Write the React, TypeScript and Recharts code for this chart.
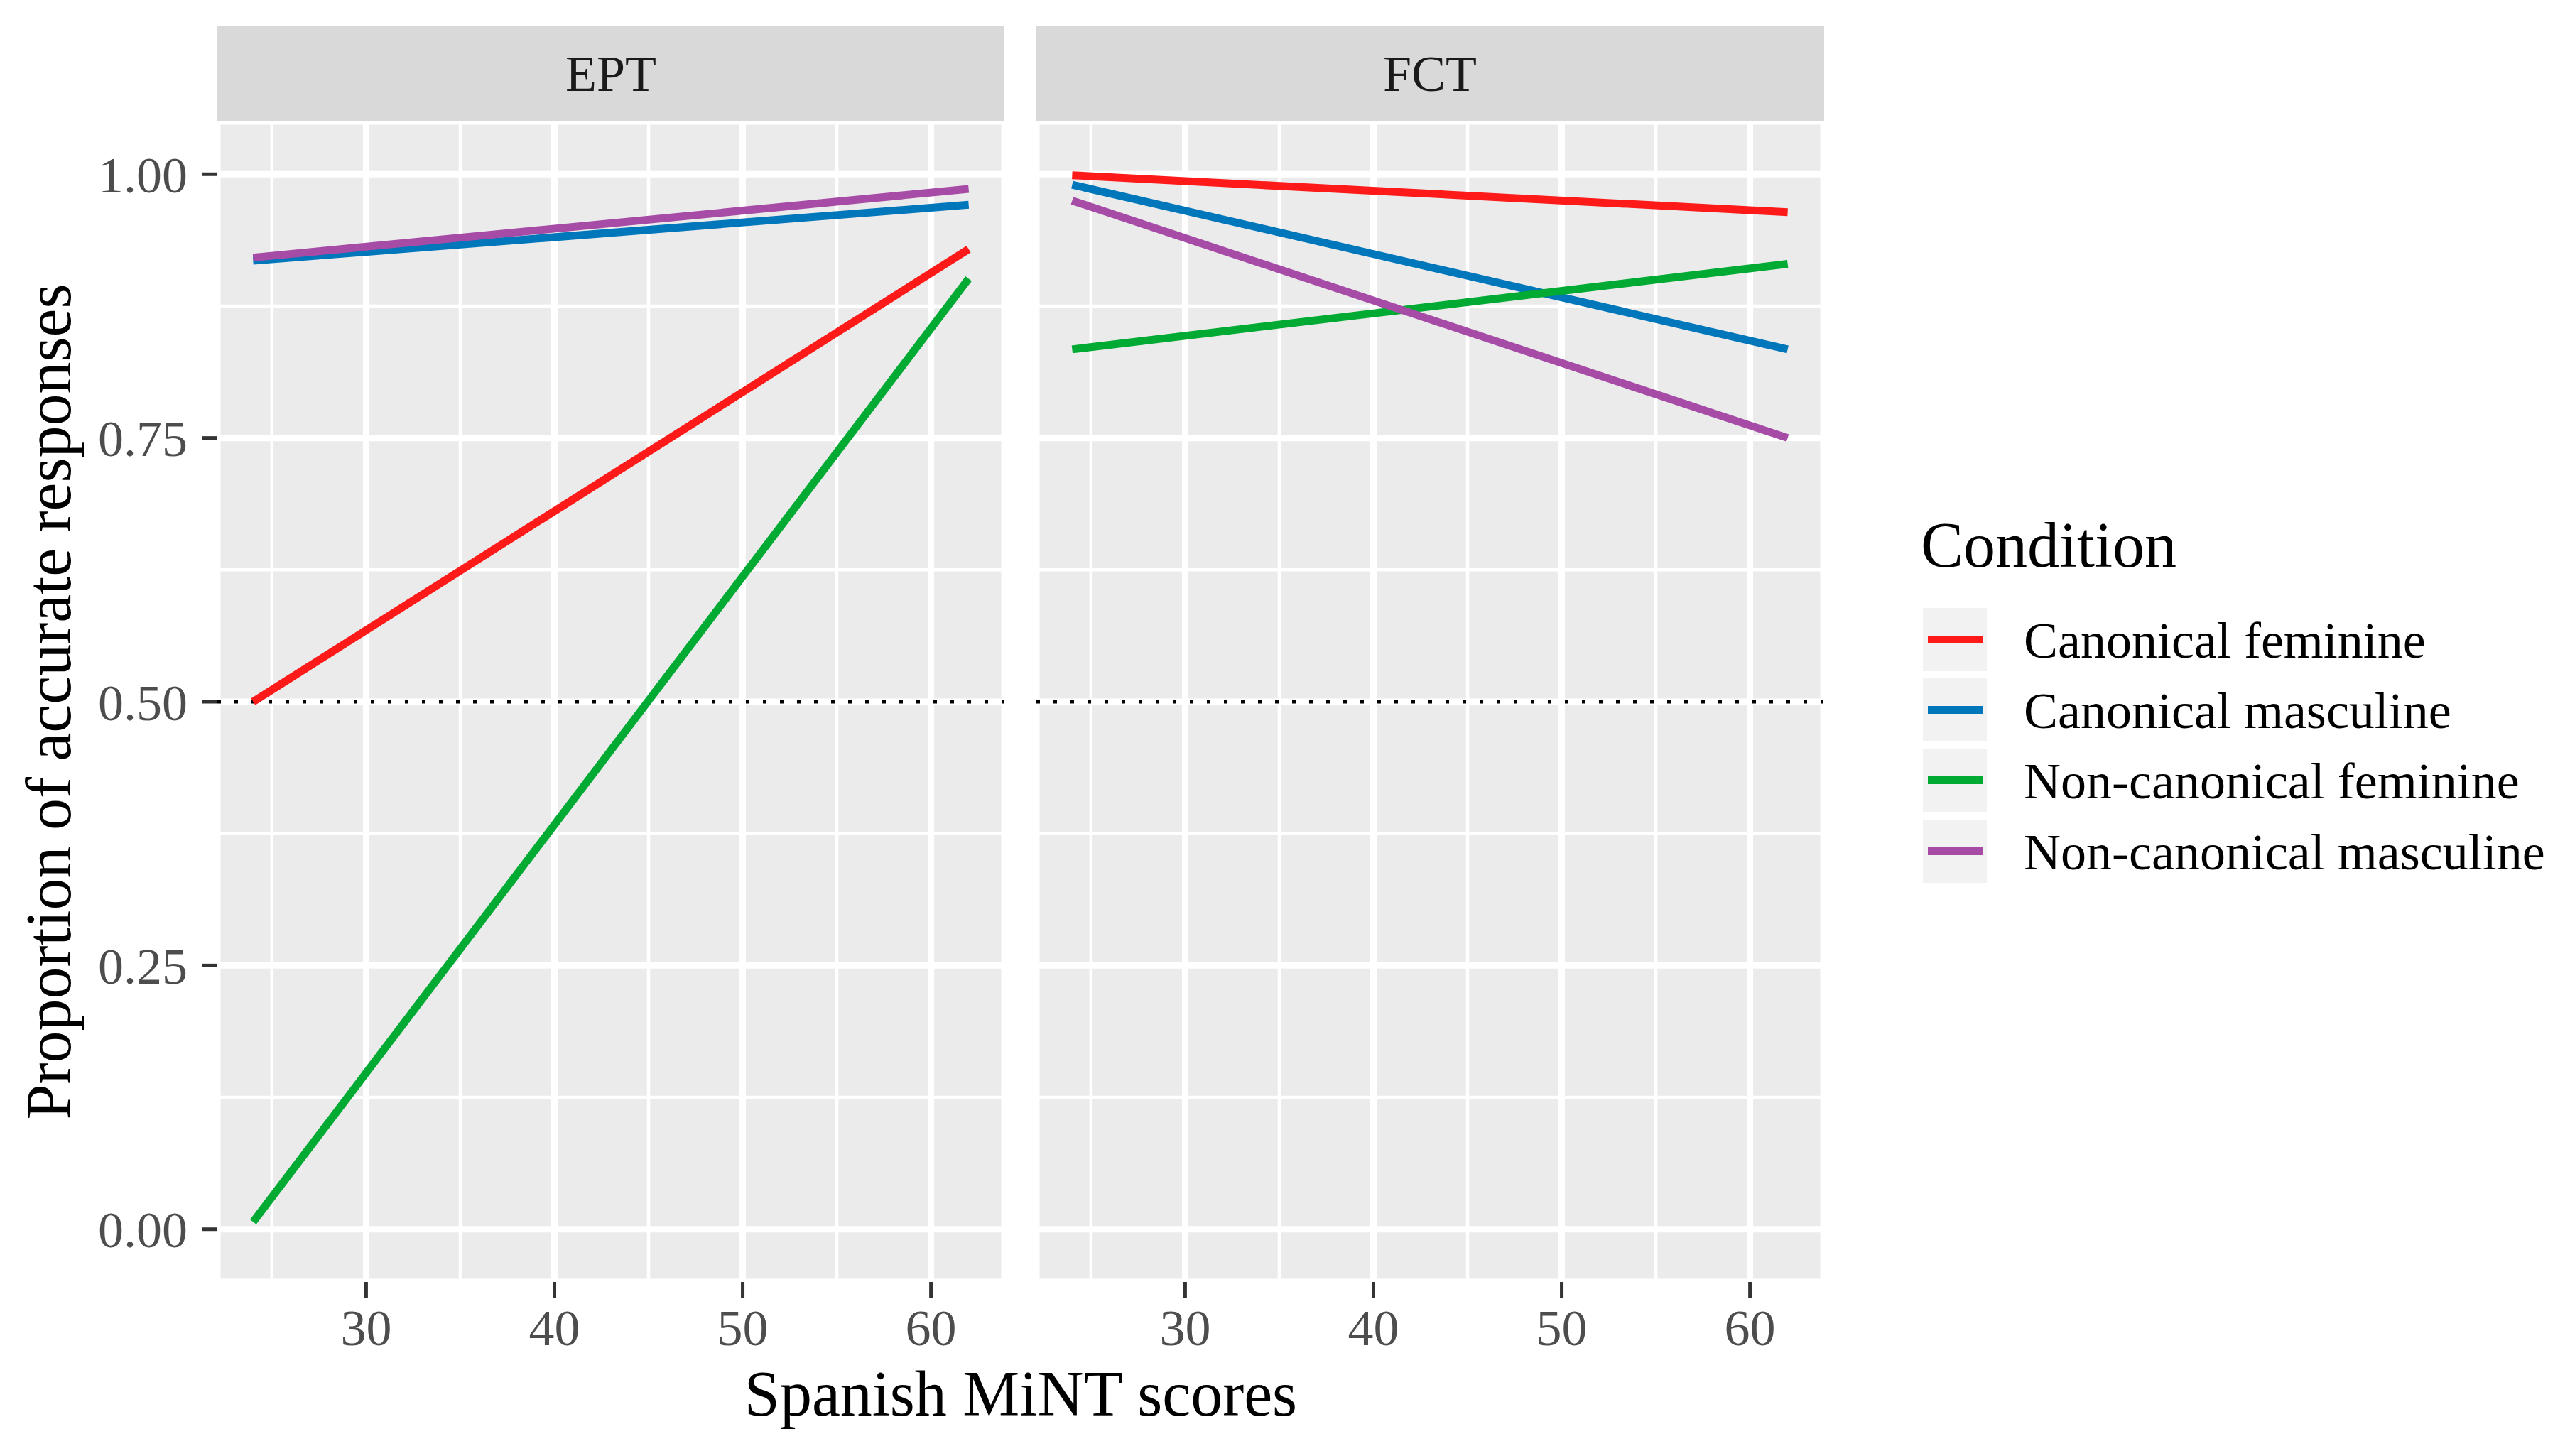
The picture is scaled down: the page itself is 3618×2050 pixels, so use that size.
import React from 'react';
import { LineChart, Line, XAxis, YAxis, CartesianGrid, ReferenceLine } from 'recharts';

const FONT = '"Liberation Serif", "DejaVu Serif", serif';

// x values where the fitted lines start and end
const MINT_SCORES = [24, 62];
const X_TICKS = [30, 40, 50, 60];
const X_MINOR = [25, 35, 45, 55];
const Y_TICKS = [0, 0.25, 0.5, 0.75, 1];
const Y_MINOR = [0.125, 0.375, 0.625, 0.875];
const X_DOMAIN = [22.1, 63.9];
const Y_DOMAIN = [-0.05, 1.05];

const CONDITIONS = [
  'Canonical feminine',
  'Canonical masculine',
  'Non-canonical feminine',
  'Non-canonical masculine',
];
const COLORS = ['#ff1a1a', '#0077bb', '#00aa33', '#a64ca6'];

// EPT panel
const EPT_CANON_FEM = [0.5, 0.929];
const EPT_CANON_MASC = [0.918, 0.971];
const EPT_NONCANON_FEM = [0.007, 0.901];
const EPT_NONCANON_MASC = [0.921, 0.986];

// FCT panel
const FCT_CANON_FEM = [0.999, 0.964];
const FCT_CANON_MASC = [0.99, 0.834];
const FCT_NONCANON_FEM = [0.834, 0.915];
const FCT_NONCANON_MASC = [0.975, 0.75];

const toPoints = (values: number[]) => MINT_SCORES.map((x, i) => ({ x, y: values[i] }));

const EPT_SERIES = [EPT_CANON_FEM, EPT_CANON_MASC, EPT_NONCANON_FEM, EPT_NONCANON_MASC].map(toPoints);
const FCT_SERIES = [FCT_CANON_FEM, FCT_CANON_MASC, FCT_NONCANON_FEM, FCT_NONCANON_MASC].map(toPoints);

const PANEL_TOP = 171;
const PANEL_H = 1634;
const PANEL_W = 1108;
const Y_AXIS_W = 306;
const X_AXIS_H = 150;
const FCT_LEFT = 1459;

const TICK_STYLE = { fontSize: 72, fill: '#4d4d4d', fontFamily: FONT };
const TICK_LINE = { stroke: '#333333', strokeWidth: 5 };

interface PanelProps {
  series: { x: number; y: number }[][];
  showY: boolean;
}

const Panel = ({ series, showY }: PanelProps) => (
  <LineChart
    width={(showY ? Y_AXIS_W : 0) + PANEL_W}
    height={PANEL_H + X_AXIS_H}
    margin={{ top: 0, right: 0, bottom: 0, left: 0 }}
  >
    <XAxis xAxisId="minor" type="number" dataKey="x" domain={X_DOMAIN} ticks={X_MINOR} hide allowDataOverflow />
    <YAxis yAxisId="minor" type="number" domain={Y_DOMAIN} ticks={Y_MINOR} hide allowDataOverflow />
    <XAxis
      type="number"
      dataKey="x"
      domain={X_DOMAIN}
      ticks={X_TICKS}
      allowDataOverflow
      height={X_AXIS_H}
      tick={TICK_STYLE}
      tickLine={TICK_LINE}
      tickSize={22}
      tickMargin={16}
      axisLine={false}
    />
    <YAxis
      type="number"
      domain={Y_DOMAIN}
      ticks={Y_TICKS}
      allowDataOverflow
      hide={!showY}
      width={Y_AXIS_W}
      tick={TICK_STYLE}
      tickLine={TICK_LINE}
      tickSize={22}
      tickMargin={20}
      axisLine={false}
      tickFormatter={(v: number) => v.toFixed(2)}
    />
    <CartesianGrid xAxisId="minor" yAxisId="minor" fill="#ebebeb" fillOpacity={1} stroke="#ffffff" strokeWidth={4.5} />
    <CartesianGrid stroke="#ffffff" strokeWidth={9} />
    <ReferenceLine y={0.5} stroke="#000000" strokeWidth={5} strokeDasharray="5 19" />
    {series.map((pts, i) => (
      <Line
        key={CONDITIONS[i]}
        data={pts}
        dataKey="y"
        type="linear"
        stroke={COLORS[i]}
        strokeWidth={11}
        dot={false}
        activeDot={false}
        isAnimationActive={false}
      />
    ))}
  </LineChart>
);

const LEGEND_TOPS = [856, 955, 1054, 1154];

export default function App() {
  return (
    <div
      style={{
        position: 'absolute',
        left: 0,
        top: 0,
        width: 3618,
        height: 2050,
        background: '#ffffff',
        fontFamily: FONT,
      }}
    >
      <svg width={3618} height={2050} style={{ position: 'absolute', left: 0, top: 0 }}>
        {/* facet strips */}
        <rect x={Y_AXIS_W} y={36} width={PANEL_W} height={135} fill="#d9d9d9" />
        <rect x={FCT_LEFT} y={36} width={PANEL_W + 1} height={135} fill="#d9d9d9" />
        <text x={Y_AXIS_W + PANEL_W / 2} y={128} textAnchor="middle" fontSize={72} fill="#1a1a1a" fontFamily={FONT}>
          EPT
        </text>
        <text x={FCT_LEFT + PANEL_W / 2} y={128} textAnchor="middle" fontSize={72} fill="#1a1a1a" fontFamily={FONT}>
          FCT
        </text>

        {/* axis titles */}
        <text x={1437} y={1993} textAnchor="middle" fontSize={90} fill="#000000" fontFamily={FONT}>
          Spanish MiNT scores
        </text>
        <text
          x={0}
          y={0}
          transform={`translate(99, ${PANEL_TOP + PANEL_H / 2}) rotate(-90)`}
          textAnchor="middle"
          fontSize={90}
          fill="#000000"
          fontFamily={FONT}
        >
          Proportion of accurate responses
        </text>

        {/* legend */}
        <text x={2704} y={798} fontSize={90} fill="#000000" fontFamily={FONT}>
          Condition
        </text>
        {CONDITIONS.map((label, i) => {
          const top = LEGEND_TOPS[i];
          const mid = top + 44.5;
          return (
            <g key={label}>
              <rect x={2707} y={top} width={90} height={89} fill="#f2f2f2" />
              <line x1={2714} x2={2792} y1={mid} y2={mid} stroke={COLORS[i]} strokeWidth={11} />
              <text x={2849} y={mid + 25} fontSize={72} fill="#000000" fontFamily={FONT}>
                {label}
              </text>
            </g>
          );
        })}
      </svg>

      <div style={{ position: 'absolute', left: 0, top: PANEL_TOP }}>
        <Panel series={EPT_SERIES} showY />
      </div>
      <div style={{ position: 'absolute', left: FCT_LEFT, top: PANEL_TOP }}>
        <Panel series={FCT_SERIES} showY={false} />
      </div>
    </div>
  );
}
